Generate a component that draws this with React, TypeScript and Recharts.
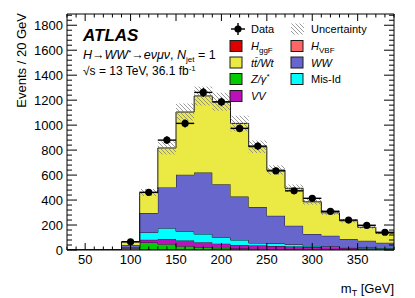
import { ComposedChart, Area, Scatter, ErrorBar, XAxis, YAxis } from 'recharts';

// 20 GeV bins, lower edges
const binStarts = [30, 50, 70, 90, 110, 130, 150, 170, 190, 210, 230, 250, 270, 290, 310, 330, 350, 370];
const xRange = [30, 390];
const yRange = [0, 1890];

const hggF = [0, 0, 0, 1, 3, 4, 4, 3, 2, 2, 1, 1, 1, 0, 0, 0, 0, 0];
const hVBF = [0, 0, 0, 0, 1, 1, 1, 1, 1, 0, 0, 0, 0, 0, 0, 0, 0, 0];
const zJets = [0, 0, 0, 14, 56, 42, 26, 18, 14, 10, 9, 7, 5, 5, 4, 3, 3, 2];
const vv = [0, 0, 0, 4, 22, 42, 46, 41, 34, 28, 26, 24, 22, 19, 16, 13, 11, 10];
const misId = [0, 0, 0, 4, 58, 86, 72, 65, 50, 40, 20, 20, 16, 8, 8, 8, 6, 4];
const ww = [0, 0, 0, 18, 156, 326, 454, 492, 426, 348, 288, 222, 150, 96, 86, 64, 54, 42];
const topWt = [0, 0, 0, 24, 164, 316, 502, 614, 660, 586, 482, 366, 300, 258, 184, 146, 108, 76];
const uncert = [0, 0, 0, 4, 28, 52, 68, 76, 72, 62, 50, 38, 30, 24, 18, 14, 11, 8];
const dataCounts = [0, 0, 0, 66, 462, 880, 1014, 1262, 1186, 974, 832, 634, 474, 414, 310, 240, 198, 142];
const dataErr = [0, 0, 0, 8, 21, 30, 32, 36, 34, 31, 29, 25, 22, 20, 18, 15, 14, 12];

const xLabels = [50, 100, 150, 200, 250, 300, 350];
const yLabels = [0, 200, 400, 600, 800, 1000, 1200, 1400, 1600, 1800];

const xTicks: number[] = [];
for (let v = 30; v <= 390; v += 10) xTicks.push(v);
const yTicks: number[] = [];
for (let v = 0; v <= 1880; v += 40) yTicks.push(v);

const rows = binStarts.map((x, i) => {
  const total = hggF[i] + hVBF[i] + zJets[i] + vv[i] + misId[i] + ww[i] + topWt[i];
  return {
    x,
    hggF: hggF[i],
    hVBF: hVBF[i],
    zJets: zJets[i],
    vv: vv[i],
    misId: misId[i],
    ww: ww[i],
    topWt: topWt[i],
    lo: total - uncert[i],
    hi: total + uncert[i],
  };
});
rows.push({ ...rows[rows.length - 1], x: xRange[1] });

const points = binStarts
  .map((x, i) => ({ x: x + 10, y: dataCounts[i], ey: dataErr[i], ex: 10 }))
  .filter((p) => p.y > 0);

const font = '"Liberation Sans", Arial, Helvetica, sans-serif';
const edge = '#1a1a1a';

const BottomTick = ({ x, y, payload }: any) => {
  const major = xLabels.includes(payload.value);
  return (
    <g>
      <line x1={x} x2={x} y1={y} y2={y - (major ? 7 : 3.5)} stroke="#000" />
      {major && (
        <text x={x} y={y + 14} textAnchor="middle" fontSize={13} fontFamily={font} fill="#000">
          {payload.value}
        </text>
      )}
    </g>
  );
};

const TopTick = ({ x, y, payload }: any) => {
  const major = xLabels.includes(payload.value);
  return <line x1={x} x2={x} y1={y} y2={y + (major ? 7 : 3.5)} stroke="#000" />;
};

const LeftTick = ({ x, y, payload }: any) => {
  const major = yLabels.includes(payload.value);
  return (
    <g>
      <line x1={x} x2={x + (major ? 10 : 5)} y1={y} y2={y} stroke="#000" />
      {major && (
        <text x={x - 4} y={y + 4.6} textAnchor="end" fontSize={13} fontFamily={font} fill="#000">
          {payload.value}
        </text>
      )}
    </g>
  );
};

const RightTick = ({ x, y, payload }: any) => {
  const major = yLabels.includes(payload.value);
  return <line x1={x} x2={x - (major ? 10 : 5)} y1={y} y2={y} stroke="#000" />;
};

const layers = [
  { key: 'hggF', color: '#dd0000' },
  { key: 'hVBF', color: '#ff6666' },
  { key: 'zJets', color: '#00cc00' },
  { key: 'vv', color: '#bb11bb' },
  { key: 'misId', color: '#00ffff' },
  { key: 'ww', color: '#6666cc' },
  { key: 'topWt', color: '#ebe944' },
];

function Swatch({ x, y, color }: { x: number; y: number; color: string }) {
  return <rect x={x} y={y} width={12} height={11} fill={color} stroke={edge} strokeWidth={1} />;
}

export default function App() {
  return (
    <div style={{ position: 'absolute', left: 0, top: 0, width: 415, height: 298, background: '#fff' }}>
      <ComposedChart
        width={415}
        height={298}
        data={rows}
        margin={{ top: 13, right: 20, bottom: 47, left: 66 }}
      >
        {layers.map((l) => (
          <Area
            key={l.key}
            type="stepAfter"
            dataKey={l.key}
            stackId="mc"
            fill={l.color}
            fillOpacity={1}
            stroke={edge}
            strokeWidth={1}
            dot={false}
            activeDot={false}
            isAnimationActive={false}
          />
        ))}
        <Area
          type="stepAfter"
          dataKey={(d: any) => [d.lo, d.hi]}
          fill="url(#uncHatch)"
          fillOpacity={1}
          stroke="none"
          dot={false}
          activeDot={false}
          isAnimationActive={false}
        />
        <Scatter
          data={points}
          dataKey="y"
          isAnimationActive={false}
          shape={(p: any) => <circle cx={p.cx} cy={p.cy} r={3.6} fill="#000" />}
        >
          <ErrorBar dataKey="ey" direction="y" width={0} stroke="#000" strokeWidth={1.4} />
          <ErrorBar dataKey="ex" direction="x" width={0} stroke="#000" strokeWidth={1.4} />
        </Scatter>
        <XAxis
          dataKey="x"
          type="number"
          domain={xRange}
          allowDataOverflow
          ticks={xTicks}
          interval={0}
          height={1}
          tickSize={0}
          tickMargin={0}
          tick={<BottomTick />}
          axisLine={{ stroke: '#000' }}
          tickLine={false}
        />
        <XAxis
          xAxisId="top"
          orientation="top"
          dataKey="x"
          type="number"
          domain={xRange}
          allowDataOverflow
          ticks={xTicks}
          interval={0}
          height={1}
          tickSize={0}
          tickMargin={0}
          tick={<TopTick />}
          axisLine={{ stroke: '#000' }}
          tickLine={false}
        />
        <YAxis
          type="number"
          domain={yRange}
          allowDataOverflow
          ticks={yTicks}
          interval={0}
          width={1}
          tickSize={0}
          tickMargin={0}
          tick={<LeftTick />}
          axisLine={{ stroke: '#000' }}
          tickLine={false}
        />
        <YAxis
          yAxisId="right"
          orientation="right"
          type="number"
          domain={yRange}
          allowDataOverflow
          ticks={yTicks}
          interval={0}
          width={1}
          tickSize={0}
          tickMargin={0}
          tick={<RightTick />}
          axisLine={{ stroke: '#000' }}
          tickLine={false}
        />
      </ComposedChart>

      <svg
        width={415}
        height={298}
        style={{ position: 'absolute', left: 0, top: 0, pointerEvents: 'none' }}
        fontFamily={font}
        fill="#000"
      >
        <defs>
          <pattern id="uncHatch" width="4" height="4" patternUnits="userSpaceOnUse">
            <path d="M-1,-1 L5,5 M-1,3 L1,5 M3,-1 L5,1" stroke="#808080" strokeWidth={0.8} />
          </pattern>
        </defs>

        <text x={83} y={41} fontSize={17} fontWeight="bold" fontStyle="italic">ATLAS</text>
        <text x={83} y={58.5} fontSize={12.5}>
          <tspan fontStyle="italic">H</tspan>→<tspan fontStyle="italic">WW</tspan>
          <tspan dy={-4} fontSize={8}>*</tspan>
          <tspan dy={4}>→</tspan>
          <tspan fontStyle="italic">eνμν</tspan>, <tspan fontStyle="italic">N</tspan>
          <tspan dy={3} fontSize={8}>jet</tspan>
          <tspan dy={-3}> = 1</tspan>
        </text>
        <text x={83} y={75} fontSize={12}>
          √s = 13 TeV, 36.1 fb<tspan dy={-4} fontSize={8}>-1</tspan>
        </text>

        <text transform="rotate(-90)" x={-13} y={26} textAnchor="end" fontSize={13}>
          Events / 20 GeV
        </text>
        <text x={394} y={293} textAnchor="end" fontSize={13}>
          m<tspan dy={3} fontSize={9}>T</tspan>
          <tspan dy={-3}> [GeV]</tspan>
        </text>

        {/* legend, left column */}
        <line x1={231} x2={245} y1={29} y2={29} stroke="#000" strokeWidth={1.4} />
        <line x1={238} x2={238} y1={23} y2={35} stroke="#000" strokeWidth={1.4} />
        <circle cx={238} cy={29} r={3.6} fill="#000" />
        <text x={251} y={33} fontSize={11}>Data</text>

        <Swatch x={230} y={40.5} color="#dd0000" />
        <text x={251} y={50} fontSize={11}>
          <tspan fontStyle="italic">H</tspan>
          <tspan dy={3} fontSize={8}>ggF</tspan>
        </text>
        <Swatch x={230} y={57} color="#ebe944" />
        <text x={251} y={66.5} fontSize={11} fontStyle="italic">tt̄/Wt</text>
        <Swatch x={230} y={73.5} color="#00cc00" />
        <text x={251} y={83} fontSize={11} fontStyle="italic">
          Z/γ<tspan dy={-4} fontSize={8}>*</tspan>
        </text>
        <Swatch x={230} y={90.5} color="#bb11bb" />
        <text x={251} y={100} fontSize={11} fontStyle="italic">VV</text>

        {/* legend, right column */}
        <rect x={291} y={23.5} width={13} height={11} fill="url(#uncHatch)" />
        <text x={311} y={33} fontSize={11}>Uncertainty</text>
        <Swatch x={291} y={40.5} color="#ff6666" />
        <text x={311} y={50} fontSize={11}>
          <tspan fontStyle="italic">H</tspan>
          <tspan dy={3} fontSize={8}>VBF</tspan>
        </text>
        <Swatch x={291} y={57} color="#6666cc" />
        <text x={311} y={66.5} fontSize={11} fontStyle="italic">WW</text>
        <Swatch x={291} y={73.5} color="#00ffff" />
        <text x={311} y={83} fontSize={11}>Mis-Id</text>
      </svg>
    </div>
  );
}
